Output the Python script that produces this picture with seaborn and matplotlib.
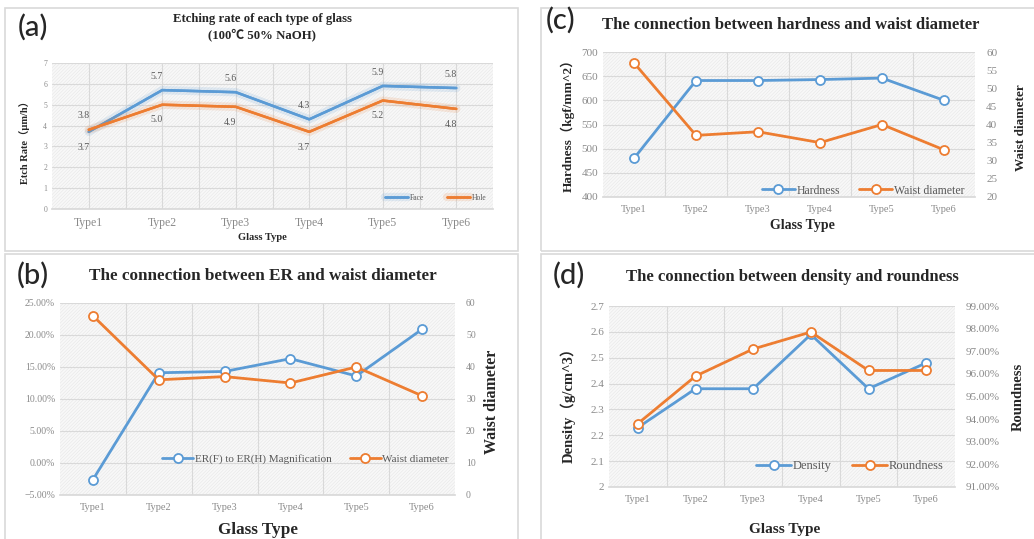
import matplotlib
matplotlib.use("Agg")
import matplotlib.pyplot as plt
import matplotlib.patheffects as pe
import seaborn as sns
from matplotlib.patches import Rectangle
from matplotlib.ticker import MultipleLocator, PercentFormatter, FuncFormatter

# Dati
types = ["Type1", "Type2", "Type3", "Type4", "Type5", "Type6"]
face_rate = [3.7, 5.7, 5.6, 4.3, 5.9, 5.8]
hole_rate = [3.8, 5.0, 4.9, 3.7, 5.2, 4.8]
er_magnification = [-2.6, 14.1, 14.3, 16.3, 13.6, 20.9]  # in %
waist_b = [56, 36, 37, 35, 40, 31]
hardness = [480, 641, 641, 643, 646, 600]
waist_c = [57, 37, 38, 35, 40, 33]
density = [2.23, 2.38, 2.38, 2.59, 2.38, 2.48]
roundness = [93.8, 95.9, 97.1, 97.85, 96.15, 96.15]  # in %

BLUE = "#5B9BD5"
ORANGE = "#ED7D31"
GRAY = "#8a8a8a"
W, H = 1034, 539

sns.set_theme(style="white")
plt.rcParams["font.family"] = ["Liberation Serif", "Noto Sans CJK SC", "DejaVu Sans"]
plt.rcParams["hatch.linewidth"] = 0.35

fig = plt.figure(figsize=(W / 100, H / 100), dpi=100)


def axes_px(x0, y0, x1, y1):
    return fig.add_axes([x0 / W, 1 - y1 / H, (x1 - x0) / W, (y1 - y0) / H])


def frame_px(x0, y0, x1, y1):
    fig.add_artist(Rectangle((x0 / W, 1 - y1 / H), (x1 - x0) / W, (y1 - y0) / H,
                             transform=fig.transFigure, fill=False,
                             edgecolor="#d9d9d9", lw=1.2))


def style_area(ax, centers_too=False, tick_size=7, xtick_size=7):
    ax.add_patch(Rectangle((0, 0), 1, 1, transform=ax.transAxes, facecolor="#f8f8f8",
                           edgecolor="#e4e4e4", hatch="/" * 10, lw=0, zorder=-1))
    ax.set_xlim(-0.5, len(types) - 0.5)
    ax.set_xticks(range(len(types)))
    ax.set_xticklabels(types)
    ax.set_xticks([i + 0.5 for i in range(len(types) - 1)], minor=True)
    ax.set_axisbelow(True)
    ax.grid(axis="y", color="#d9d9d9", lw=0.8)
    ax.grid(axis="x", which="minor", color="#d9d9d9", lw=0.8)
    if centers_too:
        ax.grid(axis="x", which="major", color="#d9d9d9", lw=0.8)
    for s in ["top", "right", "left"]:
        ax.spines[s].set_visible(False)
    ax.spines["bottom"].set_color("#d9d9d9")
    ax.tick_params(which="both", length=0, colors=GRAY, labelsize=tick_size)
    ax.tick_params(axis="x", labelsize=xtick_size, pad=6)
    ax.set_xlabel("")
    ax.set_ylabel("")


def draw(ax, y, color, label, marker=True, lw=2.0, glow=False):
    kw = dict(marker="o", markersize=6.5, markerfacecolor="white",
              markeredgecolor=color, markeredgewidth=1.3) if marker else {}
    sns.lineplot(x=types, y=y, ax=ax, color=color, lw=lw, label=label, legend=False, **kw)
    if glow:
        ax.lines[-1].set_path_effects([pe.withStroke(linewidth=6, foreground=color, alpha=0.15),
                                       pe.Normal()])


def right_axis(ax):
    ax2 = ax.twinx()
    for s in ax2.spines.values():
        s.set_visible(False)
    ax2.grid(False)
    return ax2


def combined_legend(ax, ax2, size, **kw):
    h1, l1 = ax.get_legend_handles_labels()
    h2, l2 = ax2.get_legend_handles_labels()
    leg = ax2.legend(h1 + h2, l1 + l2, ncol=2, frameon=False, fontsize=size,
                     handlelength=2.8, columnspacing=1.6, handletextpad=0.15, **kw)
    for t in leg.get_texts():
        t.set_color("#595959")


# pannelli
frame_px(5, 8, 518, 251)
frame_px(5, 254, 518, 545)
frame_px(541, 8, 1040, 251)
frame_px(541, 254, 1040, 545)

# (a) etch rate
ax_a = axes_px(52, 63, 493, 209)
style_area(ax_a, centers_too=True, tick_size=5.5, xtick_size=8.5)
draw(ax_a, face_rate, BLUE, "Face", marker=False, lw=1.8, glow=True)
draw(ax_a, hole_rate, ORANGE, "Hole", marker=False, lw=1.8, glow=True)
ax_a.set_ylim(0, 7)
ax_a.yaxis.set_major_locator(MultipleLocator(1))
for i, (f, h) in enumerate(zip(face_rate, hole_rate)):
    for v, other in [(f, h), (h, f)]:
        dy = 10 if v >= other else -11
        ax_a.annotate(f"{v:.1f}", (i, v), xytext=(-4, dy), textcoords="offset points",
                      ha="center", va="center", fontsize=7, color="#595959")
leg = ax_a.legend(ncol=2, frameon=False, fontsize=5.5, loc="lower right",
                  handlelength=3, columnspacing=3, handletextpad=0.2,
                  bbox_to_anchor=(1.0, 0.0))
for t in leg.get_texts():
    t.set_color("#595959")
fig.text(262 / W, 1 - 27 / H, "Etching rate of each type of glass\n(100℃ 50% NaOH)",
         ha="center", va="center", fontsize=9.2, fontweight="bold", linespacing=1.4)
fig.text(262 / W, 1 - 238 / H, "Glass Type", ha="center", va="center",
         fontsize=7.5, fontweight="bold")
fig.text(25 / W, 1 - 140 / H, "Etch Rate（μm/h）", rotation=90, ha="center", va="center",
         fontsize=7.5, fontweight="bold")

# (b) ER vs waist diameter
ax_b = axes_px(60, 303, 455, 495)
style_area(ax_b, tick_size=7, xtick_size=7.5)
draw(ax_b, er_magnification, BLUE, "ER(F) to ER(H) Magnification")
ax_b.set_ylim(-5, 25)
ax_b.yaxis.set_major_locator(MultipleLocator(5))
ax_b.yaxis.set_major_formatter(PercentFormatter(decimals=2))
ax_b2 = right_axis(ax_b)
draw(ax_b2, waist_b, ORANGE, "Waist diameter")
ax_b2.set_ylim(0, 60)
ax_b2.yaxis.set_major_locator(MultipleLocator(10))
ax_b2.tick_params(length=0, colors=GRAY, labelsize=7, pad=8)
ax_b2.set_ylabel("")
combined_legend(ax_b, ax_b2, 8, loc="lower right", bbox_to_anchor=(1.01, 0.11))
fig.text(263 / W, 1 - 276 / H, "The connection between ER and waist diameter",
         ha="center", va="center", fontsize=12.3, fontweight="bold")
fig.text(258 / W, 1 - 530 / H, "Glass Type", ha="center", va="center",
         fontsize=12.3, fontweight="bold")
fig.text(492 / W, 1 - 402 / H, "Waist diameter", rotation=90, ha="center", va="center",
         fontsize=11.5, fontweight="bold")

# (c) hardness vs waist diameter
ax_c = axes_px(603, 52, 975, 197)
style_area(ax_c, tick_size=8, xtick_size=7.5)
draw(ax_c, hardness, BLUE, "Hardness")
ax_c.set_ylim(400, 700)
ax_c.yaxis.set_major_locator(MultipleLocator(50))
ax_c2 = right_axis(ax_c)
draw(ax_c2, waist_c, ORANGE, "Waist diameter")
ax_c2.set_ylim(20, 60)
ax_c2.yaxis.set_major_locator(MultipleLocator(5))
ax_c2.tick_params(length=0, colors=GRAY, labelsize=8, pad=8)
ax_c2.set_ylabel("")
combined_legend(ax_c, ax_c2, 8.5, loc="lower right", bbox_to_anchor=(1.0, -0.07))
fig.text(791 / W, 1 - 25 / H, "The connection between hardness and waist diameter",
         ha="center", va="center", fontsize=12, fontweight="bold")
fig.text(802 / W, 1 - 226 / H, "Glass Type", ha="center", va="center",
         fontsize=10, fontweight="bold")
fig.text(568 / W, 1 - 122 / H, "Hardness（kgf/mm^2）", rotation=90, ha="center", va="center",
         fontsize=9.5, fontweight="bold")
fig.text(1021 / W, 1 - 128 / H, "Waist diameter", rotation=90, ha="center", va="center",
         fontsize=9.5, fontweight="bold")

# (d) density vs roundness
ax_d = axes_px(609, 306, 955, 487)
style_area(ax_d, tick_size=8, xtick_size=7.5)
draw(ax_d, density, BLUE, "Density")
ax_d.set_ylim(2.0, 2.7)
ax_d.yaxis.set_major_locator(MultipleLocator(0.1))
ax_d.yaxis.set_major_formatter(FuncFormatter(lambda v, p: f"{v:g}"))
ax_d2 = right_axis(ax_d)
draw(ax_d2, roundness, ORANGE, "Roundness")
ax_d2.set_ylim(91, 99)
ax_d2.yaxis.set_major_locator(MultipleLocator(1))
ax_d2.yaxis.set_major_formatter(PercentFormatter(decimals=2))
ax_d2.tick_params(length=0, colors=GRAY, labelsize=8, pad=8)
ax_d2.set_ylabel("")
combined_legend(ax_d, ax_d2, 9, loc="lower right", bbox_to_anchor=(1.0, 0.02))
fig.text(792 / W, 1 - 277 / H, "The connection between density and roundness",
         ha="center", va="center", fontsize=12, fontweight="bold")
fig.text(785 / W, 1 - 530 / H, "Glass Type", ha="center", va="center",
         fontsize=11, fontweight="bold")
fig.text(568 / W, 1 - 402 / H, "Density（g/cm^3）", rotation=90, ha="center", va="center",
         fontsize=10.5, fontweight="bold")
fig.text(1018 / W, 1 - 397 / H, "Roundness", rotation=90, ha="center", va="center",
         fontsize=10.5, fontweight="bold")

# etichette dei pannelli
for x, y, s in [(33, 27, "(a)"), (33, 275, "(b)"), (561, 20, "(c)"), (569, 275, "(d)")]:
    fig.text(x / W, 1 - y / H, s, ha="center", va="center", fontsize=21,
             fontweight="medium", family=["Lato", "DejaVu Sans"])

fig.savefig("out.png", dpi=100)
